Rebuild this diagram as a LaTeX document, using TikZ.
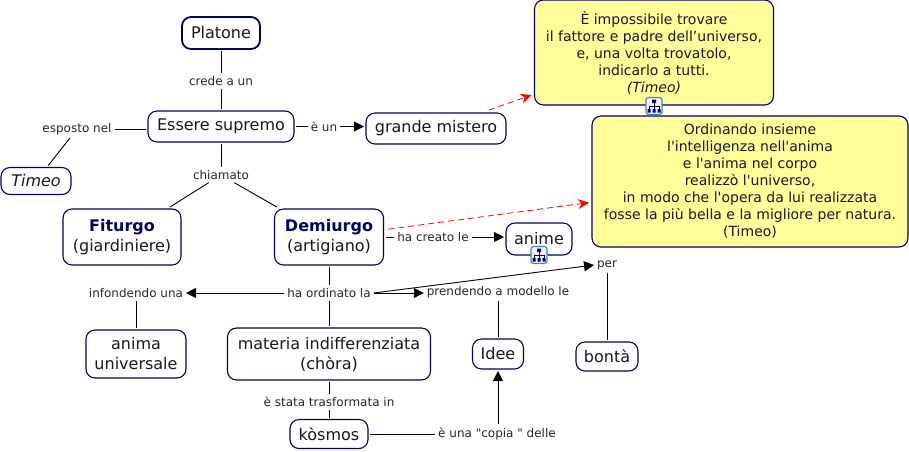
\documentclass[tikz,border=0pt]{standalone}
\usepackage{fontspec}
\setmainfont{DejaVu Sans}[Ligatures=TeXOff]
\usetikzlibrary{positioning,arrows.meta}
\definecolor{cmapnavy}{RGB}{0,0,102}
\definecolor{cmapyellow}{RGB}{255,255,153}
\definecolor{cmapblue}{RGB}{60,130,210}
\tikzset{
  concept/.style={draw=cmapnavy,line width=1.1pt,rounded corners=9pt,fill=white,align=center,font=\fontsize{16}{20}\selectfont,inner sep=0pt,outer sep=2pt,text=black!90},
  quote/.style={draw=cmapnavy,line width=1.1pt,rounded corners=9pt,fill=cmapyellow,align=center,font=\fontsize{14}{17}\selectfont,inner sep=0pt,outer sep=0pt,text=black!90},
  linkname/.style={font=\fontsize{12}{14}\selectfont,text=black!85,inner sep=2pt,outer sep=1pt},
  link/.style={black,line width=0.9pt},
  linkto/.style={link,-{Triangle[length=10pt,width=10pt]}},
  seealso/.style={red,dash pattern=on 6pt off 4pt,line width=0.8pt,-{Stealth[length=11pt,width=10pt]},shorten >=3pt,shorten <=3pt},
  mapicon/.style={draw=cmapblue,rounded corners=2.5pt,fill=blue!4,minimum width=16pt,minimum height=17pt,inner sep=0pt,line width=1.1pt}
}
\newcommand{\maptree}[1]{%
  \draw[cmapnavy,line width=0.8pt] (#1)++(0,-4) -- ++(0,4) (#1)++(-5,3) -- ++(0,-3) -- ++(10,0) -- ++(0,3) (#1)++(0,0) -- ++(0,3);
  \fill[cmapnavy] (#1)++(-2,-6.5) rectangle ++(4,3.5) (#1)++(-6.5,3) rectangle ++(3,3.5) (#1)++(-1.5,3) rectangle ++(3,3.5) (#1)++(3.5,3) rectangle ++(3,3.5);
}
\begin{document}
\begin{tikzpicture}[x=1pt,y=-1pt]
\useasboundingbox (0,0) rectangle (909,451);
% concepts
\node[concept,line width=1.8pt,minimum width=78pt,minimum height=32pt] (platone) at (221,33) {Platone};
\node[concept,minimum width=146pt,minimum height=31pt] (essere) at (221,126.5) {Essere supremo};
\node[concept,minimum width=140pt,minimum height=31pt] (mistero) at (436,128.5) {grande mistero};
\node[concept,minimum width=70pt,minimum height=27pt] (timeo) at (36,181) {\itshape Timeo};
\node[concept,minimum width=118pt,minimum height=56pt] (fiturgo) at (122,237) {\textcolor{cmapnavy}{\bfseries Fiturgo}\\(giardiniere)};
\node[concept,minimum width=109pt,minimum height=56pt] (demiurgo) at (329,237) {\textcolor{cmapnavy}{\bfseries Demiurgo}\\(artigiano)};
\node[concept,minimum width=66pt,minimum height=32pt] (anime) at (539,239) {anime};
\node[concept,minimum width=100pt,minimum height=48pt] (universale) at (136,354) {anima\\universale};
\node[concept,minimum width=203pt,minimum height=52pt] (materia) at (329,354) {materia indifferenziata\\(chòra)};
\node[concept,minimum width=51pt,minimum height=30pt] (idee) at (498,354) {Idee};
\node[concept,minimum width=62pt,minimum height=29pt] (bonta) at (607,356.5) {bontà};
\node[concept,minimum width=78pt,minimum height=29pt] (kosmos) at (329,434) {kòsmos};
% quotes
\node[quote,minimum width=239pt,minimum height=105pt] (fattore) at (654,52.5) {È impossibile trovare\\il fattore e padre dell’universo,\\e, una volta trovatolo,\\indicarlo a tutti.\\\textit{(Timeo)}};
\node[quote,minimum width=316pt,minimum height=131pt] (ordinando) at (750,181.5) {Ordinando insieme\\l'intelligenza nell'anima\\e l'anima nel corpo\\realizzò l'universo,\\in modo che l'opera da lui realizzata\\fosse la più bella e la migliore per natura.\\(Timeo)};
% link names
\node[linkname] (credeaun) at (221,81) {crede a un};
\node[linkname] (esposto) at (77,129) {esposto nel};
\node[linkname] (eun) at (324,126.5) {è un};
\node[linkname] (chiamato) at (221,175) {chiamato};
\node[linkname] (hacreato) at (433,237) {ha creato le};
\node[linkname] (haordinato) at (329,293) {ha ordinato la};
\node[linkname] (infondendo) at (136,293) {infondendo una};
\node[linkname] (prendendo) at (498,292.5) {prendendo a modello le};
\node[linkname] (per) at (607,265) {per};
\node[linkname] (trasformata) at (329,402) {è stata trasformata in};
\node[linkname] (copia) at (497,433.5) {è una "copia " delle};
% connectors
\draw[link] (platone) -- (credeaun);
\draw[link] (credeaun) -- (essere);
\draw[link] (esposto -| essere.west) -- (esposto);
\draw[link] (esposto) -- (timeo);
\draw[link] (essere) -- (chiamato);
\draw[link] (chiamato) -- (fiturgo);
\draw[link] (chiamato) -- (demiurgo);
\draw[link] (essere) -- (eun);
\draw[linkto] (eun) -- (eun -| mistero.west);
\draw[link] (hacreato -| demiurgo.east) -- (hacreato);
\draw[linkto] (hacreato) -- (hacreato -| anime.west);
\draw[link] (demiurgo) -- (haordinato);
\draw[link] (haordinato) -- (materia);
\draw[linkto] (haordinato) -- (infondendo);
\draw[link] (infondendo) -- (infondendo |- universale.north);
\draw[linkto] (haordinato) -- (haordinato -| prendendo.west);
\draw[link] (prendendo) -- (prendendo |- idee.north);
\draw[linkto] (haordinato.east) -- (per.west);
\draw[link] (per) -- (bonta);
\draw[link] (materia) -- (trasformata);
\draw[link] (trasformata) -- (kosmos);
\draw[link] (kosmos.east) -- (kosmos -| copia.west);
\draw[linkto] (copia.north -| idee) -- (idee);
\draw[seealso] (mistero) -- (fattore);
\draw[seealso] (demiurgo) -- (ordinando);
% icons
\node[mapicon] (iconfattore) at (654,106) {};
\node[mapicon] (iconanime) at (539,255) {};
\maptree{iconfattore}
\maptree{iconanime}
\end{tikzpicture}
\end{document}
